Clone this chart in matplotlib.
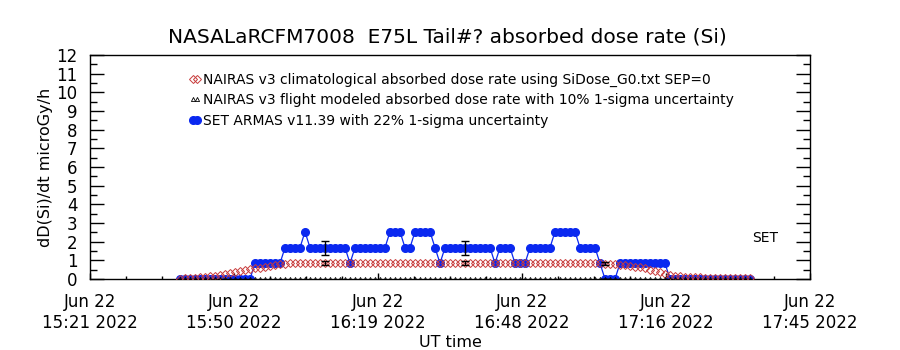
# -*- coding: utf-8 -*-
"""
absorbed dose rate along the flight: NAIRAS model vs SET ARMAS measurement
"""
import numpy as np
import matplotlib
matplotlib.use('agg')
import matplotlib.pyplot as plt
from matplotlib.ticker import MultipleLocator

## data (minutes after 15:21:40 UT, 1-minute samples)
t_min = np.arange(18, 133)

nairas_clim = [0.02, 0.03, 0.04, 0.05, 0.08, 0.11, 0.14, 0.18, 0.22, 0.27, 0.32, 0.39,
               0.45, 0.49, 0.53, 0.57, 0.61, 0.65, 0.70, 0.75, 0.79, 0.82, 0.85, 0.86,
               0.87, 0.88, 0.88, 0.87, 0.87, 0.86, 0.87, 0.88, 0.88, 0.87,
               0.86, 0.86, 0.87, 0.88, 0.88, 0.87, 0.87, 0.86, 0.86, 0.87,
               0.88, 0.88, 0.87, 0.86, 0.86, 0.87, 0.88, 0.87, 0.86, 0.86,
               0.87, 0.87, 0.86, 0.86, 0.87, 0.88, 0.88, 0.87, 0.86, 0.86,
               0.87, 0.87, 0.86, 0.85, 0.86, 0.87, 0.88, 0.88, 0.87, 0.87,
               0.86, 0.86, 0.87, 0.87, 0.86, 0.86, 0.85, 0.85, 0.84, 0.84,
               0.84, 0.82, 0.80, 0.78, 0.76, 0.73, 0.70, 0.66, 0.62, 0.57, 0.50,
               0.42, 0.36, 0.27, 0.20, 0.16, 0.14, 0.12, 0.10, 0.09, 0.08, 0.07,
               0.07, 0.06, 0.06, 0.05, 0.05, 0.05, 0.04, 0.04, 0.04]

nairas_flight = [0.0] * 115

set_armas = [0, 0, 0, 0, 0, 0, 0, 0, 0, 0, 0, 0, 0, 0, 0,
             0.84, 0.84, 0.84, 0.84, 0.84, 0.84,
             1.68, 1.68, 1.68, 1.68,
             2.53,
             1.68, 1.68, 1.68, 1.68, 1.68, 1.68, 1.68, 1.68,
             0.84,
             1.68, 1.68, 1.68, 1.68, 1.68, 1.68, 1.68,
             2.53, 2.53, 2.53,
             1.68, 1.68,
             2.53, 2.53, 2.53, 2.53,
             1.68,
             0.84,
             1.68, 1.68, 1.68, 1.68, 1.68, 1.68, 1.68, 1.68, 1.68, 1.68,
             0.84,
             1.68, 1.68, 1.68,
             0.84, 0.84, 0.84,
             1.68, 1.68, 1.68, 1.68, 1.68,
             2.53, 2.53, 2.53, 2.53, 2.53,
             1.68, 1.68, 1.68, 1.68,
             0.84,
             0, 0, 0,
             0.84, 0.84, 0.84, 0.84, 0.84, 0.84, 0.84, 0.84, 0.84, 0.84,
             0, 0, 0, 0, 0, 0, 0, 0, 0, 0, 0, 0, 0, 0, 0, 0, 0]

err_t = [47, 75, 103]      # minutes with uncertainty bars
set_unc = 0.22
nairas_unc = 0.10

xtick_labels = ['Jun 22\n15:21 2022', 'Jun 22\n15:50 2022', 'Jun 22\n16:19 2022',
                'Jun 22\n16:48 2022', 'Jun 22\n17:16 2022', 'Jun 22\n17:45 2022']

labels = ['NAIRAS v3 climatological absorbed dose rate using SiDose_G0.txt SEP=0',
          'NAIRAS v3 flight modeled absorbed dose rate with 10% 1-sigma uncertainty',
          'SET ARMAS v11.39 with 22% 1-sigma uncertainty']

title = 'NASALaRCFM7008  E75L Tail#? absorbed dose rate (Si)'

# plot
fig = plt.figure(figsize=(9, 3.5), dpi=100)
ax = fig.add_axes([0.1, 0.2029, 0.8, 0.64])

blue = '#0A28F0'
red = '#C83C3C'

l3, = ax.plot(t_min, set_armas, '-o', color=blue, lw=0.9, ms=5.5, mec=blue, zorder=2)
l1, = ax.plot(t_min, nairas_clim, 'D', ls='none', ms=3.8, mfc='none', mec=red, mew=0.7, zorder=3)
l2, = ax.plot(t_min, nairas_flight, '^', ls='none', ms=3, mfc='none', mec='black', mew=0.6, zorder=4)

idx = [list(t_min).index(t) for t in err_t]
set_e = np.array([set_armas[i] for i in idx])
clim_e = np.array([nairas_clim[i] for i in idx])
ax.errorbar(err_t, set_e, yerr=set_e * set_unc, fmt='none', ecolor='black', elinewidth=1, capsize=3, zorder=5)
ax.errorbar(err_t, clim_e, yerr=clim_e * nairas_unc, fmt='none', ecolor='black', elinewidth=1, capsize=3, zorder=5)

ax.set_xlim(0, 144)
ax.set_ylim(0, 12)
ax.set_xticks(np.linspace(0, 144, len(xtick_labels)))
ax.set_xticklabels(xtick_labels, fontsize=12, linespacing=1.2)
ax.xaxis.set_minor_locator(MultipleLocator(7.2))
ax.set_yticks(range(0, 13))
ax.yaxis.set_minor_locator(MultipleLocator(0.5))
ax.tick_params(axis='y', which='major', direction='in', length=10, width=1,
               left=True, right=True, labelsize=12, pad=9)
ax.tick_params(axis='y', which='minor', direction='in', length=5, width=1,
               left=True, right=True)
ax.tick_params(axis='x', which='major', direction='in', length=4.5, width=1, pad=10, top=False)
ax.tick_params(axis='x', which='minor', direction='in', length=2.2, width=1, top=False)
for s in ax.spines.values():
    s.set_linewidth(1)

ax.set_ylabel('dD(Si)/dt microGy/h', fontsize=11.5)
ax.yaxis.set_label_coords(-0.052, 0.5)
ax.set_xlabel('UT time', fontsize=11.5, va='top')
ax.xaxis.set_label_coords(0.5, -0.25)

fig.text(0.497, 1 - 37 / 350, title, ha='center', va='center', fontsize=14.5)
ax.text(0.9375, 0.183, 'SET', transform=ax.transAxes, ha='center', va='center', fontsize=10)

ax.legend([l1, l2, l3], labels, loc='upper left', bbox_to_anchor=(0.137, 0.92),
          frameon=False, fontsize=10, numpoints=2, handlelength=0.9,
          handletextpad=0.1, labelspacing=0.45, borderpad=0, borderaxespad=0)

plt.savefig('out.png', dpi=100)
